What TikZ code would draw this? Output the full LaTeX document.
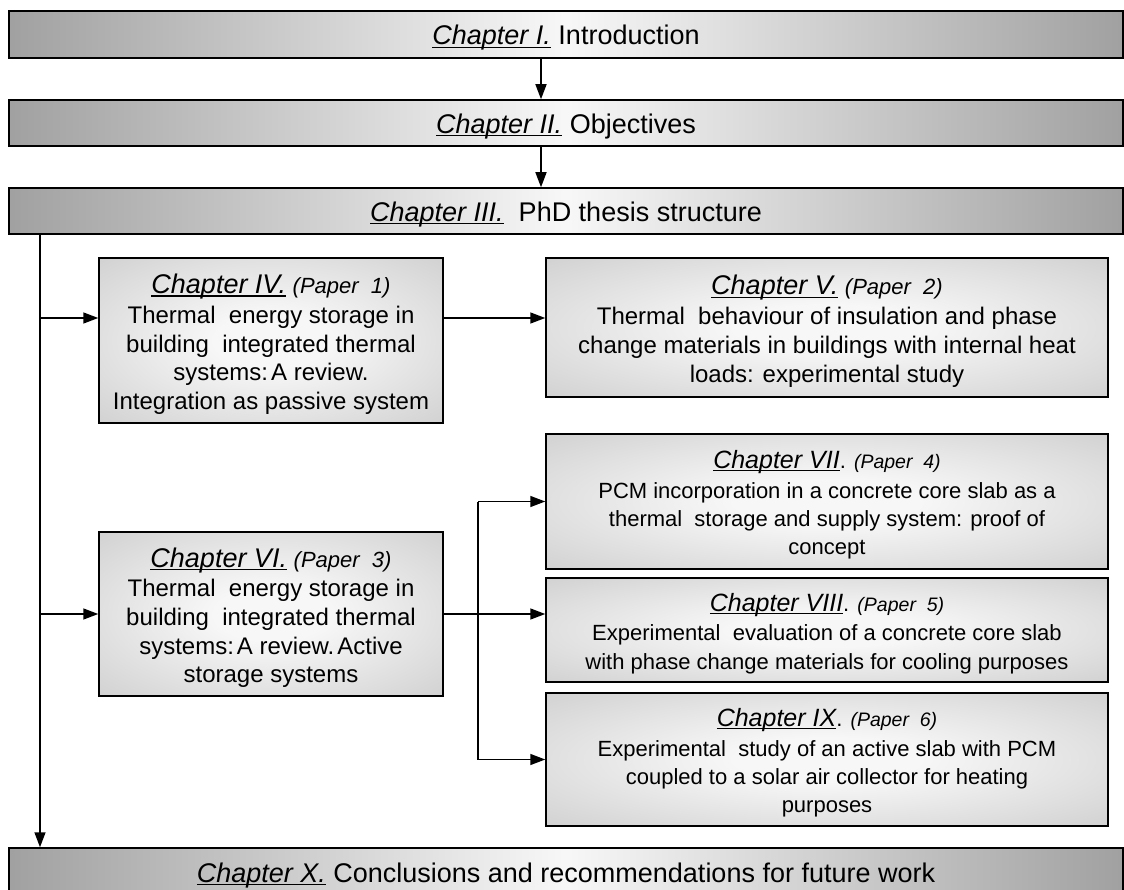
\documentclass[tikz,border=0pt]{standalone}
\usepackage{fontspec}
\setmainfont{Liberation Sans}
\usetikzlibrary{arrows.meta}
\definecolor{shlight}{gray}{0.97}
\definecolor{shmid}{gray}{0.70}
\definecolor{shdark}{gray}{0.61}
\definecolor{bardark}{gray}{0.63}
\pgfdeclareradialshading{boxshade}{\pgfpoint{0bp}{0bp}}{color(0bp)=(shlight); color(8bp)=(shlight); color(58bp)=(shmid); color(71bp)=(shdark)}
\newsavebox{\ulbox}
\newcommand{\ulit}[1]{\sbox{\ulbox}{\itshape #1}\rlap{\rule[-0.11em]{\wd\ulbox}{1.3pt}}\usebox{\ulbox}}
\newcommand{\chtitle}[3]{\rule{0pt}{#3pt}\raisebox{0pt}{}{\fontsize{#3}{28}\selectfont\ulit{#1}}#2}
\tikzset{
  bar/.style={draw, line width=1.5pt, left color=bardark, right color=bardark, middle color=shlight,
    minimum width=1114pt, inner sep=0pt, text height=23pt, text depth=2pt, font=\fontsize{27}{32}\selectfont},
  chap/.style={draw, line width=1.5pt, shading=boxshade, inner sep=0pt, align=center},
  bigtext/.style={font=\fontsize{24}{28.7}\selectfont},
  smalltext/.style={font=\fontsize{22}{28.3}\selectfont},
  arr/.style={line width=1.5pt, -{Triangle[length=15pt,width=11pt]}},
  ln/.style={line width=1.5pt}
}
\begin{document}
\begin{tikzpicture}[x=1pt,y=-1pt]
\useasboundingbox (0,0) rectangle (1124,890);
% bars
\node[bar, minimum height=47pt] (I) at (566,34.5) {\ulit{Chapter I.} Introduction};
\node[bar, minimum height=46pt] (II) at (566,123) {\ulit{Chapter II.} Objectives};
\node[bar, minimum height=46pt] (III) at (566,211) {\ulit{Chapter III.}\ \ PhD thesis structure};
\node[bar, minimum height=48pt] (X) at (566,872) {\ulit{Chapter X.} Conclusions and recommendations for future work};
% chapter boxes
\node[chap, bigtext, minimum width=344pt, minimum height=165pt] (IV) at (271,340.5)
  {\chtitle{Chapter IV.}{ {\fontsize{22}{26}\selectfont\itshape (Paper\ \ 1)}}{27}\\[1pt]
   Thermal\ \ energy storage in\\ building\ \ integrated thermal\\ systems:\hspace{3pt}A review.\\ Integration as passive system};
\node[chap, bigtext, minimum width=562pt, minimum height=139pt] (V) at (827,327.5)
  {\chtitle{Chapter V.}{ {\fontsize{22}{26}\selectfont\itshape (Paper\ \ 2)}}{27}\\[1pt]
   Thermal\ \ behaviour of insulation and phase\\ change materials in buildings with internal heat\\ loads: experimental study};
\node[chap, bigtext, minimum width=344pt, minimum height=164pt] (VI) at (271,614)
  {\chtitle{Chapter VI.}{ {\fontsize{22}{26}\selectfont\itshape (Paper\ \ 3)}}{27}\\[1pt]
   Thermal\ \ energy storage in\\ building\ \ integrated thermal\\ systems:\hspace{3pt}A review.\hspace{3pt}Active\\ storage systems};
\node[chap, smalltext, minimum width=562pt, minimum height=135pt] (VII) at (827,501.5)
  {\chtitle{Chapter VII}{. {\fontsize{19.5}{24}\selectfont\itshape (Paper\ \ 4)}}{25}\\[1.5pt]
   PCM\ incorporation in a concrete core slab as a\\ thermal\ \ storage and supply system: proof of\\ concept};
\node[chap, smalltext, minimum width=562pt, minimum height=104pt] (VIII) at (827,630)
  {\chtitle{Chapter VIII}{. {\fontsize{19.5}{24}\selectfont\itshape (Paper\ \ 5)}}{25}\\[1.5pt]
   Experimental\ \ evaluation of a concrete core slab\\ with phase change materials for cooling purposes};
\node[chap, smalltext, minimum width=562pt, minimum height=133pt] (IX) at (827,759.5)
  {\chtitle{Chapter IX}{. {\fontsize{19.5}{24}\selectfont\itshape (Paper\ \ 6)}}{25}\\[1.5pt]
   Experimental\ \ study of an active slab with PCM\\ coupled to a solar air collector for heating\\ purposes};
% helper coordinates
\coordinate (c541) at (541,0);
\coordinate (tr) at (40,0);
\coordinate (r318) at (0,318);
\coordinate (br) at (478,0);
% connectors
\draw[arr] (I.south -| c541) -- (II.north -| c541);
\draw[arr] (II.south -| c541) -- (III.north -| c541);
\draw[arr] (III.south -| tr) -- (X.north -| tr);
\draw[arr] (tr |- r318) -- (IV.west |- r318);
\draw[arr] (IV.east |- r318) -- (V.west |- r318);
\draw[arr] (tr |- VI.west) -- (VI.west);
\draw[arr] (VI.east) -- (VIII.west |- VI.east);
\draw[ln] (br |- VII.west) -- (br |- IX.west);
\draw[arr] (br |- VII.west) -- (VII.west);
\draw[arr] (br |- IX.west) -- (IX.west);
\end{tikzpicture}
\end{document}
